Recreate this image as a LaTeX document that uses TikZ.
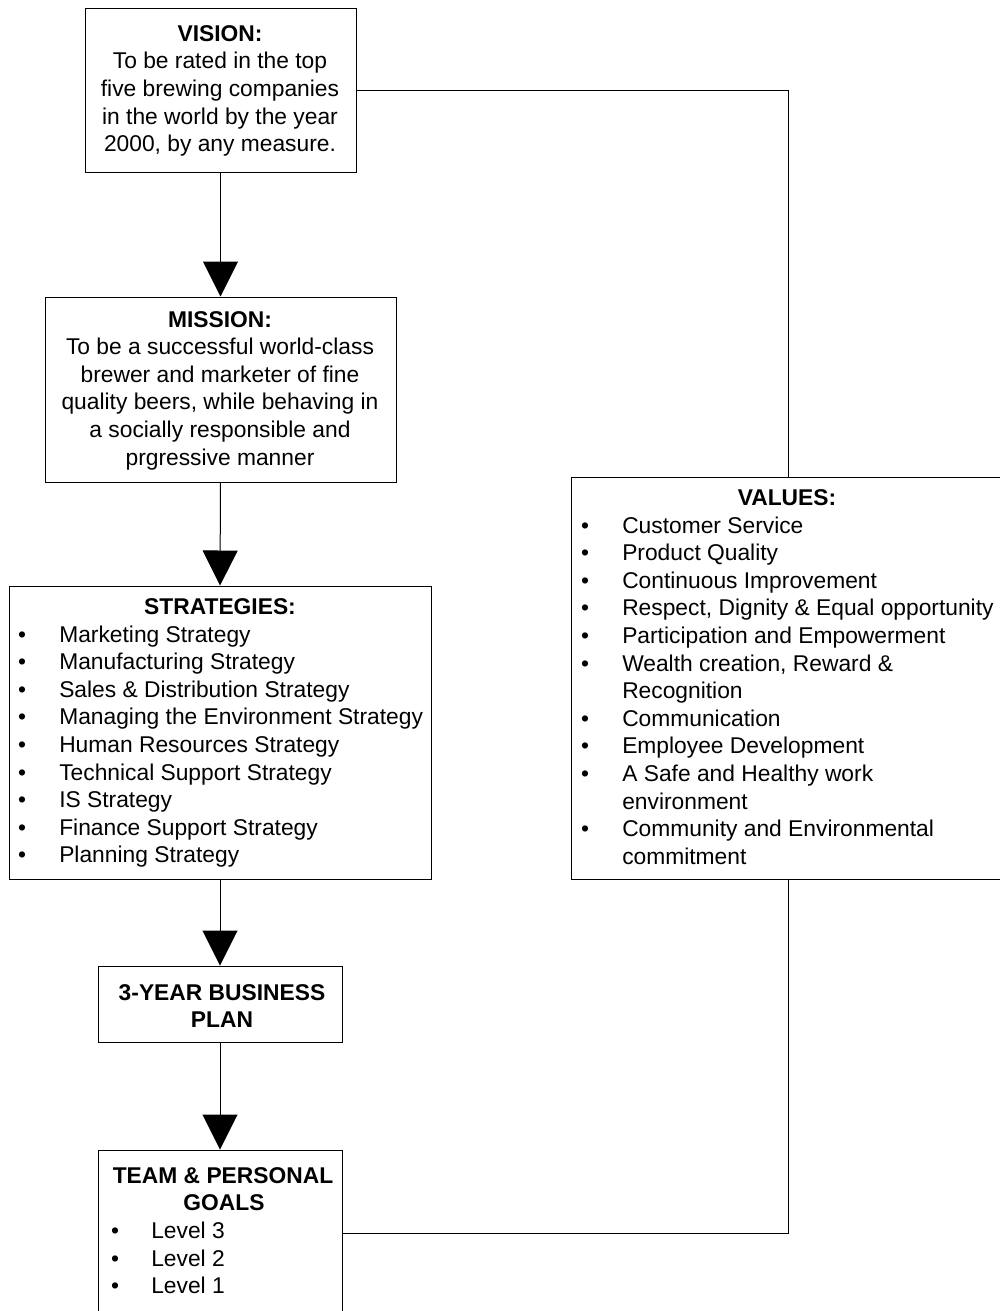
\documentclass[tikz,border=0pt]{standalone}
\usepackage{fontspec}
\setmainfont{Liberation Sans}
\usetikzlibrary{arrows.meta,fit}
\begin{document}
\begin{tikzpicture}[x=0.75pt,y=-0.75pt,
  box/.style={draw=black,line width=0.75pt,inner sep=0pt,fill=white},
  txt/.style={inner sep=0pt,font=\fontsize{17.1pt}{20.7pt}\selectfont},
  head/.style={txt,font=\fontsize{17.1pt}{20.7pt}\selectfont\bfseries,anchor=base},
  ctr/.style={txt,anchor=base},
  item/.style={txt,anchor=base west},
  bul/.style={txt,anchor=base},
  link/.style={draw=black,line width=0.75pt},
  arr/.style={link,-{Triangle[width=26.25pt,length=26.25pt]}}]
\useasboundingbox (0,0) rectangle (1000,1311);
\clip (0,0) rectangle (1000,1311);
\fill[white] (0,0) rectangle (1000,1311);

% boxes
\node[box,fit={(85,8)(356,172)}] (vision) {};
\node[box,fit={(45,297)(396,482)}] (mission) {};
\node[box,fit={(9,586)(431,879)}] (strat) {};
\node[box,fit={(98,966)(342,1042)}] (plan) {};
\node[box,fit={(98,1150)(342,1316)}] (team) {};
\node[box,fit={(571,477)(1005,879)}] (values) {};

% vision
\node[head] (visionT) at (220,41) {VISION:};
\node[ctr] (v1) at (220,68.7) {To be rated in the top};
\node[ctr] (v2) at (220,96.4) {five brewing companies};
\node[ctr] (v3) at (220,124.1) {in the world by the year};
\node[ctr] (v4) at (220,151.8) {2000, by any measure.};

% mission
\node[head] (missionT) at (220,327) {MISSION:};
\node[ctr] (m1) at (220,354.6) {To be a successful world-class};
\node[ctr] (m2) at (220,382.2) {brewer and marketer of fine};
\node[ctr] (m3) at (220,409.8) {quality beers, while behaving in};
\node[ctr] (m4) at (220,437.4) {a socially responsible and};
\node[ctr] (m5) at (220,465) {prgressive manner};

% strategies
\node[head] (stratT) at (220,614) {STRATEGIES:};
\foreach \t [count=\i from 0] in {Marketing Strategy,Manufacturing Strategy,Sales \& Distribution Strategy,Managing the Environment Strategy,Human Resources Strategy,Technical Support Strategy,IS Strategy,Finance Support Strategy,Planning Strategy}{
  \node[bul] (sb\i) at (22,642+27.6*\i) {\textbullet};
  \node[item] (s\i) at (59,642+27.6*\i) {\t};
}

% values
\node[head] (valuesT) at (787,505) {VALUES:};
\foreach \t/\r [count=\i from 0] in {Customer Service/0,Product Quality/1,Continuous Improvement/2,{Respect, Dignity \& Equal opportunity}/3,Participation and Empowerment/4,{Wealth creation, Reward \&}/5,Communication/7,Employee Development/8,A Safe and Healthy work/9,Community and Environmental/11}{
  \node[bul] (vb\i) at (585,533+27.6*\r) {\textbullet};
  \node[item] (vi\i) at (622,533+27.6*\r) {\t};
}
\node[item] (vc1) at (622,533+27.6*6) {Recognition};
\node[item] (vc2) at (622,533+27.6*10) {environment};
\node[item] (vc3) at (622,533+27.6*12) {commitment};

% business plan
\node[head] (p1) at (222,1000) {3-YEAR BUSINESS};
\node[head] (p2) at (222,1027.5) {PLAN};

% team goals
\node[head] (t1) at (223,1183) {TEAM \& PERSONAL};
\node[head] (t2) at (224,1210.7) {GOALS};
\foreach \t [count=\i from 0] in {Level 3,Level 2,Level 1}{
  \node[bul] (tb\i) at (115,1238.4+27.7*\i) {\textbullet};
  \node[item] (tl\i) at (151,1238.4+27.7*\i) {\t};
}

% flow arrows
\draw[arr] (vision.south) -- (mission.north);
\draw[arr] (mission.south) -- (strat.north);
\draw[arr] (strat.south) -- (plan.north);
\draw[arr] (plan.south) -- (team.north);

% links through the values box
\draw[link] (vision.east) -| (values.north);
\draw[link] (values.south) |- (team.east);
\end{tikzpicture}
\end{document}
